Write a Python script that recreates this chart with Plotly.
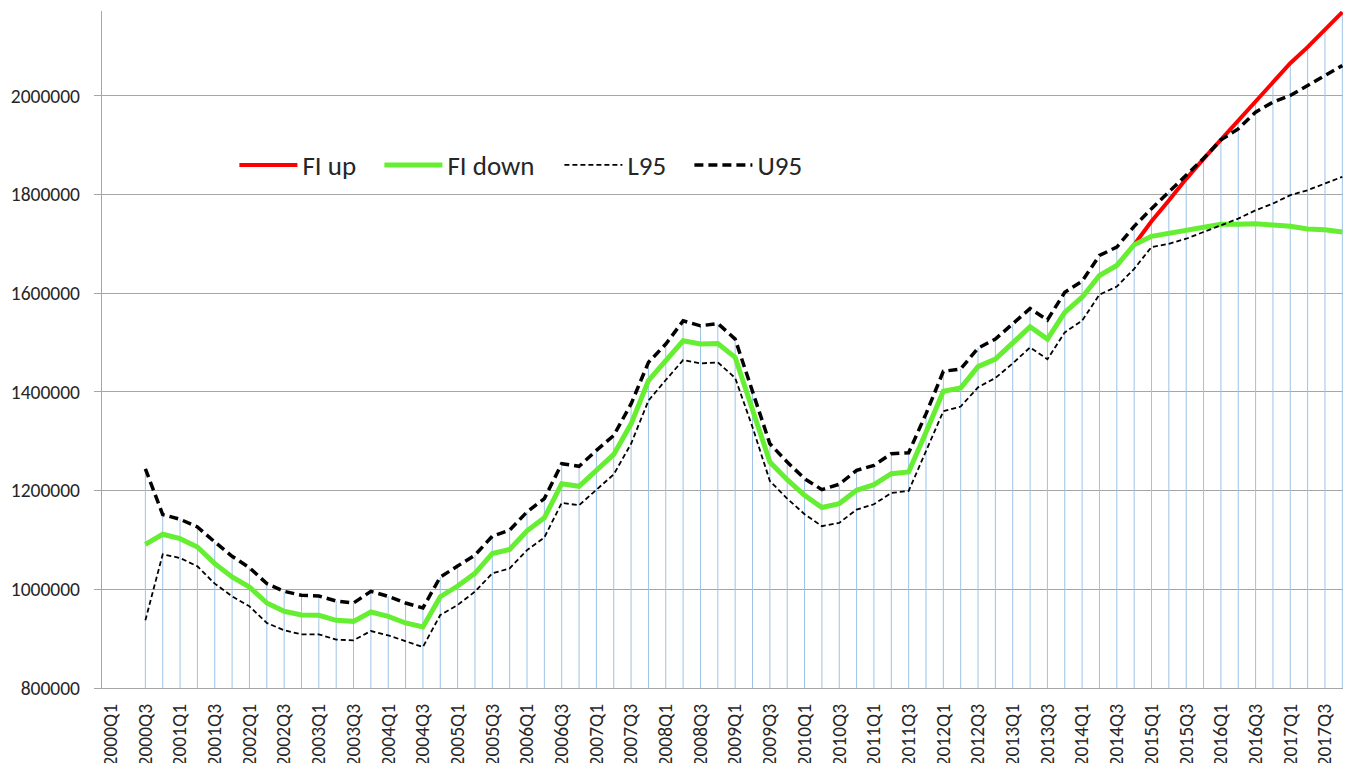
import plotly.graph_objects as go

# quarterly categories 2000Q1 .. 2017Q4
quarters = [f"{y}Q{q}" for y in range(2000, 2018) for q in range(1, 5)]
tick_labels = quarters[::2]

# series values (start at 2000Q3)
fi_down = [None, None,
           1091000, 1111500,
           1102700, 1085800, 1052000, 1025000,
           1004700, 972300, 955400, 948000,
           947300, 937200, 935100, 954000,
           945300, 931800, 923600, 985000,
           1006700, 1032300, 1072700, 1080800,
           1118500, 1144800, 1214100, 1208800,
           1241100, 1273400, 1335400, 1422900,
           1463300, 1503700, 1497000, 1498300,
           1470000, 1362000, 1257900, 1222200,
           1190600, 1165700, 1173700, 1200700,
           1212100, 1234300, 1237700, 1318500,
           1401300, 1408100, 1451200, 1466700,
           1498300, 1532000, 1507100, 1561400,
           1591900, 1635900, 1656300, 1698300,
           1715300, 1722000, 1728800, 1735600,
           1739700, 1739700, 1741000, 1738300,
           1735600, 1730200, 1728800, 1724100]

fi_up = [None] * 59 + [1698300,
                       1745900, 1787800, 1831800, 1872300,
                       1910800, 1950000, 1990500, 2027700,
                       2066200, 2098700, 2133800, 2169600]

l95 = [None, None,
       937200, 1071000,
       1063500, 1046600, 1011500, 985800,
       965500, 931800, 916900, 908800,
       908800, 898000, 896600, 915500,
       906700, 894600, 883100, 948000,
       968300, 995300, 1032300, 1042400,
       1079500, 1105100, 1175100, 1170400,
       1202000, 1233000, 1295000, 1382500,
       1424200, 1464600, 1457900, 1459900,
       1428300, 1328600, 1219500, 1183800,
       1152200, 1127900, 1134700, 1161600,
       1172400, 1195300, 1199300, 1280100,
       1360900, 1370400, 1409400, 1428300,
       1457900, 1490200, 1466400, 1520700,
       1544400, 1597300, 1613600, 1649500,
       1693600, 1700300, 1710500, 1724100,
       1737600, 1751200, 1768100, 1781700,
       1798700, 1808800, 1822400, 1836000]

u95 = [None, None,
       1244300, 1151400,
       1141900, 1126400, 1096000, 1066900,
       1043900, 1011500, 995900, 987800,
       986500, 976400, 972300, 995900,
       985800, 972300, 962200, 1025000,
       1047100, 1069400, 1107700, 1119900,
       1156900, 1183800, 1254500, 1249200,
       1281500, 1311800, 1375800, 1459900,
       1497000, 1544100, 1534000, 1538700,
       1507100, 1402700, 1295000, 1257900,
       1224200, 1202000, 1212800, 1241100,
       1251200, 1274700, 1276800, 1355600,
       1441800, 1446500, 1488900, 1507100,
       1537400, 1569000, 1545800, 1602000,
       1624400, 1676600, 1693600, 1735600,
       1771500, 1805400, 1839300, 1873000,
       1910800, 1933100, 1966900, 1987200,
       2000700, 2021000, 2041200, 2061500]

y_min = 800000
y_max = 2172000

# Excel style drop lines: from axis up to the highest series at each quarter
drop_x, drop_y = [], []
for i, q in enumerate(quarters):
    vals = [s[i] for s in (fi_up, fi_down, l95, u95) if s[i] is not None]
    if vals:
        drop_x += [q, q, None]
        drop_y += [y_min, max(vals), None]

fig = go.Figure()
fig.add_trace(go.Scatter(x=drop_x, y=drop_y, mode="lines", showlegend=False,
                         line=dict(color="#9DC3E6", width=1), hoverinfo="skip"))
fig.add_trace(go.Scatter(x=quarters, y=fi_up, name="FI up", mode="lines", legendwidth=72,
                         line=dict(color="#FF0000", width=4)))
fig.add_trace(go.Scatter(x=quarters, y=fi_down, name="FI down", mode="lines", legendwidth=107,
                         line=dict(color="#66EE33", width=5)))
fig.add_trace(go.Scatter(x=quarters, y=l95, name="L95", mode="lines", legendwidth=57,
                         line=dict(color="#000000", width=1.8, dash="5px,3px")))
fig.add_trace(go.Scatter(x=quarters, y=u95, name="U95", mode="lines", legendwidth=60,
                         line=dict(color="#000000", width=3.5, dash="9px,5px")))

# the page body has an 8px margin, so the figure is shifted by that amount
fig.update_layout(
    width=1343, height=755,
    margin=dict(l=94, r=0, t=3, b=75, autoexpand=False),
    paper_bgcolor="white", plot_bgcolor="white",
    font=dict(family="Carlito, Lato, Arial, sans-serif", size=19.5, color="#262626"),
    legend=dict(orientation="h", x=0.106, y=0.772, xanchor="left", yanchor="middle",
                font=dict(size=27), itemwidth=58, bgcolor="rgba(0,0,0,0)"),
    showlegend=True,
)
fig.update_xaxes(type="category", categoryorder="array", categoryarray=quarters,
                 range=[-0.5, 71.5], tickvals=tick_labels, ticktext=tick_labels,
                 tickangle=-90, ticklabelstandoff=7,
                 showgrid=False, showline=True, linecolor="#A6A6A6",
                 linewidth=1.3, ticks="", automargin=False)
fig.update_yaxes(range=[y_min, y_max], tick0=800000, dtick=200000, tickformat="d",
                 showgrid=True, gridcolor="#A6A6A6", gridwidth=1.3,
                 showline=True, linecolor="#A6A6A6", linewidth=1.3, ticklabelstandoff=10,
                 ticks="outside", ticklen=7, tickcolor="#A6A6A6", zeroline=False,
                 automargin=False)

fig.write_html("out.html")
